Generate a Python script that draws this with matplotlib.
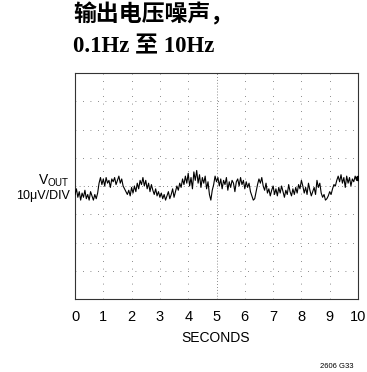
import numpy as np
import matplotlib
matplotlib.use('Agg')
import matplotlib.pyplot as plt

# trace, in divisions (10uV/DIV), every 0.05 s
noise_div = [
    -0.3, -0.1, -0.4, -0.2, -0.5, -0.25, -0.4, -0.15, -0.45, -0.3, -0.5, -0.2, -0.35, -0.5, -0.3, -0.45, -0.25,
    0.1, 0.3, 0.05, 0.25, 0.0, 0.3, 0.1, 0.2, -0.05, 0.25, 0.15, 0.3, 0.05, 0.2, 0.35, 0.1, 0.25, 0.0, -0.1, -0.2,
    -0.3, -0.15, -0.35, -0.05, -0.25, 0.0, -0.2, 0.1, -0.1, 0.2,
    0.05, 0.3, 0.0, 0.2, -0.1, 0.1, -0.2, 0.05, -0.15, -0.3, -0.1, -0.35, -0.2, -0.4,
    -0.25, -0.45, -0.3, -0.5, -0.35, -0.2, -0.45, -0.3, -0.1, -0.4, -0.2, 0.0,
    -0.15, 0.1, -0.05, 0.25, 0.05, 0.35, 0.1, 0.45, 0.0, 0.3, -0.1, 0.5, 0.2, 0.55, 0.1, 0.4, -0.05, 0.3, 0.1, 0.35,
    -0.1, 0.15, -0.3, -0.5, -0.15, 0.05, 0.35, 0.15,
    0.3, 0.0, 0.25, -0.1, 0.2, 0.05, 0.3, -0.15, 0.15, -0.05, 0.2, 0.1, -0.2, 0.15, 0.25, 0.0, 0.3, 0.05, 0.2,
    -0.1, 0.15, -0.05, 0.1, -0.2, -0.35, -0.5,
    -0.45, -0.2, 0.05, 0.25, 0.1, 0.3, 0.0, -0.15, 0.1, -0.25, -0.1, -0.35, -0.15, 0.0,
    -0.3, -0.1, -0.35, -0.05, -0.25, 0.0, -0.2, -0.4, -0.15, -0.3, 0.05, -0.2, -0.35, -0.1, -0.3, -0.05, -0.25,
    0.05, -0.1, 0.2,
    0.0, -0.25, -0.05, -0.3, 0.1, -0.15, -0.35, -0.2, -0.05, -0.3, 0.2, -0.05, 0.1, -0.25, -0.4, -0.3, -0.5, -0.45,
    -0.35, -0.2, -0.3, -0.1, 0.05, 0.0, 0.2, 0.35, 0.15, 0.4, 0.1, 0.3, -0.05, 0.35, 0.1, 0.3, 0.0, 0.25, 0.15,
    0.35, 0.2, 0.3,
]
seconds = np.linspace(0, 10, len(noise_div))
x_ticks = list(range(0, 11))

title_lines = ['输出电压噪声，', '0.1Hz 至 10Hz']
label_font = ['Liberation Sans', 'DejaVu Sans']

fig = plt.figure(figsize=(3.67, 3.72), dpi=100)
ax = fig.add_axes([75 / 367, 73 / 372, 283 / 367, 226 / 372])

# scope graticule
for gx in range(1, 10):
    ls = (0, (1, 2.5)) if gx == 5 else (0, (1, 8))
    ax.axvline(gx, color='#666666', lw=0.6, ls=ls, zorder=1)
for gy in range(-3, 4):
    ls = (0, (1, 4)) if gy == 0 else (0, (1, 8))
    ax.axhline(gy, color='#666666', lw=0.6, ls=ls, zorder=1)

ax.plot(seconds, noise_div, color='black', lw=0.8, zorder=3)
ax.plot(seconds[-1], noise_div[-1], 'o', color='black', ms=3, zorder=4)

ax.set_xlim(0, 10)
ax.set_ylim(-4, 4)
ax.set_xticks(x_ticks)
ax.set_xticklabels([str(t) for t in x_ticks], family=label_font, fontsize=10.5)
ax.set_yticks([])
ax.tick_params(axis='x', length=0, pad=8)
for s in ax.spines.values():
    s.set_linewidth(0.8)
    s.set_color('#333333')

fig.text(70 / 367, 1 - 181 / 372, r'V$_{\mathregular{OUT}}$', ha='right', va='center',
         family=label_font, fontsize=10)
fig.text(70 / 367, 1 - 196 / 372, '10μV/DIV', ha='right', va='center',
         family=label_font, fontsize=9)
fig.text(216 / 367, 1 - 338 / 372, 'SECONDS', ha='center', va='center',
         family=label_font, fontsize=10)
fig.text(353 / 367, 1 - 366 / 372, '2606 G33', ha='right', va='center',
         family=label_font, fontsize=5.5)

title_font = ['Liberation Serif', 'Noto Sans CJK SC']
fig.text(73 / 367, 1 - 15 / 372, title_lines[0], ha='left', va='center',
         family=title_font, fontweight='bold', fontsize=16.5)
fig.text(73 / 367, 1 - 47 / 372, title_lines[1], ha='left', va='center',
         family=title_font, fontweight='bold', fontsize=16.5)

plt.savefig('out.png', dpi=100)
